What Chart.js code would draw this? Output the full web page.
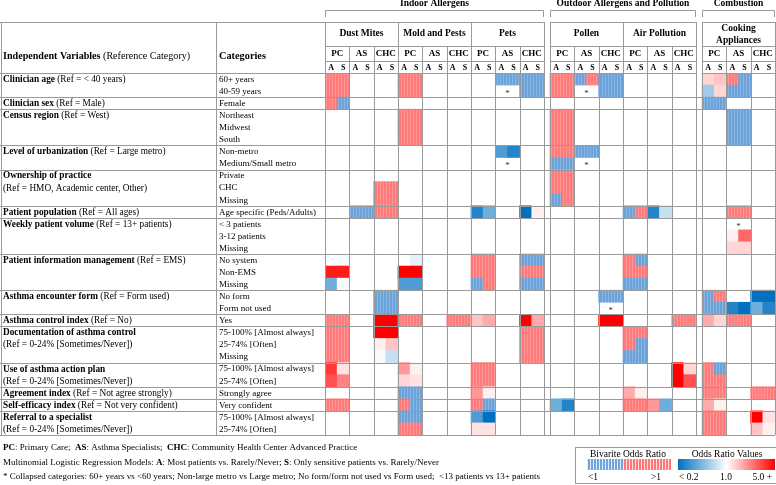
<!DOCTYPE html>
<html lang="en">
<head>
<meta charset="UTF-8">
<title>Odds Ratio Heatmap</title>
<script src="https://cdn.jsdelivr.net/npm/chart.js"></script>
<style>
  body { margin: 0; background: #fff; }
  canvas { display: block; }
</style>
</head>
<body>
<canvas id="orChart" width="776" height="485"></canvas>
<script>
// ---- data ----
const exposureGroups = ['Indoor Allergens', 'Outdoor Allergens and Pollution', 'Combustion'];
const groupSpan = [[0, 2], [3, 4], [5, 5]];           // which exposures sit under each group
const exposures = ['Dust Mites', 'Mold and Pests', 'Pets', 'Pollen', 'Air Pollution', 'Cooking Appliances'];
const specialties = ['PC', 'AS', 'CHC'];
const models = ['A', 'S'];

// name, reference category, number of category rows, reference on its own line
const variables = [
  ['Clinician age', '(Ref = < 40 years)', 2, false],
  ['Clinician sex', '(Ref = Male)', 1, false],
  ['Census region', '(Ref = West)', 3, false],
  ['Level of urbanization', '(Ref = Large metro)', 2, false],
  ['Ownership of practice', '(Ref = HMO, Academic center, Other)', 3, true],
  ['Patient population', '(Ref = All ages)', 1, false],
  ['Weekly patient volume', '(Ref = 13+ patients)', 3, false],
  ['Patient information management', '(Ref = EMS)', 3, false],
  ['Asthma encounter form', '(Ref = Form used)', 2, false],
  ['Asthma control index', '(Ref = No)', 1, false],
  ['Documentation of asthma control', '(Ref = 0-24% [Sometimes/Never])', 3, true],
  ['Use of asthma action plan', '(Ref = 0-24% [Sometimes/Never])', 2, true],
  ['Agreement index', '(Ref = Not agree strongly)', 1, false],
  ['Self-efficacy index', '(Ref = Not very confident)', 1, false],
  ['Referral to a specialist', '(Ref = 0-24% [Sometimes/Never])', 2, true]
];

const categories = [
  '60+ years', '40-59 years', 'Female', 'Northeast', 'Midwest', 'South',
  'Non-metro', 'Medium/Small metro', 'Private', 'CHC', 'Missing',
  'Age specific (Peds/Adults)', '< 3 patients', '3-12 patients', 'Missing',
  'No system', 'Non-EMS', 'Missing', 'No form', 'Form not used', 'Yes',
  '75-100% [Almost always]', '25-74% [Often]', 'Missing',
  '75-100% [Almost always]', '25-74% [Often]', 'Strongly agree', 'Very confident',
  '75-100% [Almost always]', '25-74% [Often]'
];

// one string per category row; six blocks (exposures) of PC A, PC S, AS A, AS S, CHC A, CHC S
// R / B : bivariate odds ratio > 1 / < 1 (hatched)
// a..n  : odds ratio above 1, 1..8 : odds ratio below 1 (see orByCode)
// *     : collapsed category, . : nothing
const cellRows = [
  'RR.... RR.... ..BBBB RRBRBB ...... cdRB..',
  'RR.... RR.... ..*.BB RR*.BB ...... 5cBB..',
  'RB.... ...... ...... ...... ...... BB....',
  '...... RR.... ...... RR.... ...... ..BB..',
  '...... RR.... ...... RR.... ...... ..BB..',
  '...... RR.... ...... RR.... ...... ..BB..',
  '...... ...... ..32.. RRBB.. ...... ......',
  '...... ...... ..*... BB*... ...... ......',
  '...... ...... ...... RR.... ...... ......',
  '....RR ...... ...... RR.... ...... ......',
  '....RR ...... ...... BR.... ...... ......',
  '..BBRR ...... 24..1a ...... BR26.. ..RR..',
  '...... ...... ...... ...... ...... ..*...',
  '...... ...... ...... ...... ...... ..ah..',
  '...... ...... ...... ...... ...... ..cc..',
  '.8.... .7.... RR..BB ...... RB.... ......',
  'kk.... nn.... RR..RR ...... RR.... ......',
  '48.... 33.... BR..BB ...... BB.... ......',
  '....BB ...... ...... ....BB ...... BR..11',
  '....BB ...... ...... ....*. ...... BB2142',
  'RR..nn RR..RR de..ne ....nn ....RR ecRR..',
  'RR..nn ...... ....RR ...... RR.... ......',
  'RR..ad ...... ....RR ...... RB.... ......',
  'RR..86 ...... ....RR ...... BB.... ......',
  'jb.... fa.... RR.... ...... ....nc RB....',
  'ig.... cb.... RR.... ...... ....ni RR....',
  '...... BB.... fa.... ...... ea.... RR..RR',
  'RR.... RB.... RB.... 42.... RRf4.. ea....',
  '...... BB.... 31.... ...... ...... RR..nb',
  '...... RR.... bb.... ...... ...... RR..da'
];

const orByCode = {
  a: 1.1, b: 1.2, c: 1.3, d: 1.45, e: 1.7, f: 1.9, g: 2.2, h: 2.6, i: 3.0, j: 3.5, k: 4.2, n: 5.0,
  '1': 0.2, '2': 0.25, '3': 0.33, '4': 0.4, '5': 0.55, '6': 0.7, '7': 0.85, '8': 0.95
};

const footerLines = [
  [['PC', 1], [': Primary Care;  ', 0], ['AS', 1], [': Asthma Specialists;  ', 0], ['CHC', 1], [': Community Health Center Advanced Practice', 0]],
  [['Multinomial Logistic Regression Models: ', 0], ['A', 1], [': Most patients vs. Rarely/Never; ', 0], ['S', 1], [': Only sensitive patients vs. Rarely/Never', 0]],
  [['* Collapsed categories: 60+ years vs <60 years; Non-large metro vs Large metro; No form/form not used vs Form used;  <13 patients vs 13+ patients', 0]]
];

// ---- helpers ----
const FONT = '"Liberation Serif", "Times New Roman", serif';
const LINE = '#9a9a9a';
const canvas = document.getElementById('orChart');
const ctx = canvas.getContext('2d');

// x position of column c: 36 columns plus half-column gaps after Pets and Air Pollution
function colPos(c) {
  return c + (c >= 18 ? 0.5 : 0) + (c >= 30 ? 0.5 : 0);
}

function orColor(or) {
  const t = Math.max(-1, Math.min(1, Math.log(or) / Math.log(5)));
  const end = t < 0 ? [0, 112, 192] : [255, 0, 0];
  const a = Math.abs(t);
  const m = end.map(v => Math.round(255 + (v - 255) * a));
  return 'rgb(' + m.join(',') + ')';
}

function hatch(base, line, w) {
  const c = document.createElement('canvas');
  c.width = w; c.height = 1;
  const g = c.getContext('2d');
  g.fillStyle = base; g.fillRect(0, 0, w, 1);
  g.fillStyle = line; g.fillRect(w - 1, 0, 1, 1);
  return ctx.createPattern(c, 'repeat');
}

const hatchRed = hatch('rgb(255,122,122)', 'rgb(255,150,150)', 3);
const hatchBlue = hatch('rgb(108,162,216)', 'rgb(138,182,228)', 3);
const legendRed = hatch('rgb(255,120,120)', 'rgb(255,225,225)', 3);
const legendBlue = hatch('rgb(110,165,220)', 'rgb(225,238,250)', 3);

const rowLabels = categories.map((c, i) => i + ' ' + c);

const cells = [];
const stars = [];
cellRows.forEach((s, r) => {
  [...s.replace(/ /g, '')].forEach((ch, c) => {
    if (ch === '.') return;
    if (ch === '*') { stars.push([r, c]); return; }
    cells.push({ r, c, ch });
  });
});

function cellFill(ch) {
  if (ch === 'R') return hatchRed;
  if (ch === 'B') return hatchBlue;
  return orColor(orByCode[ch]);
}

function rich(g, parts, x, y, size) {
  parts.forEach(([txt, bold]) => {
    g.font = (bold ? 'bold ' : '') + size + 'px ' + FONT;
    g.fillText(txt, x, y);
    x += g.measureText(txt).width;
  });
}

function hline(g, x0, x1, y) {
  g.beginPath(); g.moveTo(x0, Math.round(y) + 0.5); g.lineTo(x1, Math.round(y) + 0.5); g.stroke();
}
function vline(g, x, y0, y1) {
  g.beginPath(); g.moveTo(Math.round(x) + 0.5, y0); g.lineTo(Math.round(x) + 0.5, y1); g.stroke();
}

const tableDecor = {
  id: 'tableDecor',
  beforeDraw(chart) {
    const g = chart.ctx;
    g.save(); g.fillStyle = '#fff'; g.fillRect(0, 0, chart.width, chart.height); g.restore();
  },
  afterDatasetsDraw(chart) {
    const g = chart.ctx;
    const xs = chart.scales.x, ys = chart.scales.y;
    const top = ys.top, bottom = ys.bottom;
    const rowH = (bottom - top) / categories.length;
    const rowMid = r => ys.getPixelForValue(r);
    const px = v => xs.getPixelForValue(v);
    const blockL = b => px(colPos(b * 6));
    const blockR = b => px(colPos(b * 6) + 6);
    const H0 = 22, H1 = 46, H2 = 61, H3 = top;
    const colCat = 216, leftEdge = 1;

    g.save();
    g.strokeStyle = LINE; g.lineWidth = 1;

    // header horizontal rules
    [H0, H3].forEach(y => hline(g, 0, xs.left, y));
    groupSpan.forEach(([a, b]) => {
      [H0, H1, H2, H3].forEach(y => hline(g, blockL(a), blockR(b), y));
    });
    // row group rules across the whole table
    let r0 = 0;
    variables.forEach(v => {
      r0 += v[2];
      hline(g, 0, xs.right, top + r0 * rowH);
    });
    // verticals
    vline(g, leftEdge, H0, bottom);
    vline(g, colCat, H0, bottom);
    exposures.forEach((e, b) => {
      vline(g, blockL(b), H0, bottom);
      vline(g, blockR(b), H0, bottom);
      vline(g, px(colPos(b * 6) + 2), H1, bottom);
      vline(g, px(colPos(b * 6) + 4), H1, bottom);
    });

    // group brackets
    g.fillStyle = '#000';
    g.textAlign = 'center'; g.textBaseline = 'middle';
    exposureGroups.forEach((name, i) => {
      const [a, b] = groupSpan[i];
      const x0 = blockL(a), x1 = blockR(b);
      g.beginPath();
      g.moveTo(Math.round(x0) + 0.5, 17); g.lineTo(Math.round(x0) + 0.5, 10.5);
      g.lineTo(Math.round(x1) - 0.5, 10.5); g.lineTo(Math.round(x1) - 0.5, 17);
      g.stroke();
      g.font = 'bold 9.5px ' + FONT;
      g.fillText(name, (x0 + x1) / 2, 4);
    });

    // exposure / specialty / model headers
    exposures.forEach((e, b) => {
      const cx = (blockL(b) + blockR(b)) / 2;
      g.font = 'bold 9.5px ' + FONT;
      if (e === 'Cooking Appliances') {
        g.fillText('Cooking', cx, 29);
        g.fillText('Appliances', cx, 41);
      } else {
        g.fillText(e, cx, 34);
      }
      specialties.forEach((s, k) => {
        const sx = px(colPos(b * 6) + k * 2 + 1);
        g.font = 'bold 9px ' + FONT;
        g.fillText(s, sx, 54);
        models.forEach((m, j) => {
          g.font = 'bold 8px ' + FONT;
          g.fillText(m, px(colPos(b * 6) + k * 2 + j + 0.5), 67.5);
        });
      });
    });

    // left header
    g.textAlign = 'left';
    rich(g, [['Independent Variables ', 1], ['(Reference Category)', 0]], 3, 56, 10.1);
    rich(g, [['Categories', 1]], colCat + 3, 56, 10.3);

    // variable and category labels
    let r = 0;
    variables.forEach(([name, ref, n, wrap]) => {
      if (wrap) {
        rich(g, [[name, 1]], 3, rowMid(r) + 0.5, 9.3);
        rich(g, [[ref, 0]], 3, rowMid(r + 1) + 0.5, 9.3);
      } else {
        rich(g, [[name + ' ', 1], [ref, 0]], 3, rowMid(r) + 0.5, 9.3);
      }
      r += n;
    });
    g.font = '9px ' + FONT;
    categories.forEach((c, i) => g.fillText(c, colCat + 3, rowMid(i) + 0.5));

    // collapsed-category stars, centered on the specialty pair
    g.textAlign = 'center';
    g.fillStyle = '#333';
    g.font = '9px ' + FONT;
    stars.forEach(([sr, c]) => g.fillText('*', px(colPos(c) + 1), rowMid(sr) + 2.5));

    // footer
    g.fillStyle = '#000';
    g.textAlign = 'left';
    footerLines.forEach((parts, i) => rich(g, parts, 3, 448 + i * 14.5, 9));

    // legend
    g.strokeRect(575.5, 447.5, 201, 36);
    g.textAlign = 'center';
    g.font = '9.5px ' + FONT;
    g.fillText('Bivarite Odds Ratio', 628, 454.5);
    g.fillText('Odds Ratio Values', 727, 454.5);
    g.fillStyle = legendBlue; g.fillRect(587, 459, 36, 11);
    g.fillStyle = legendRed; g.fillRect(623, 459, 48, 11);
    const grad = g.createLinearGradient(678, 0, 775, 0);
    [0.2, 0.3, 0.45, 0.7, 1, 1.4, 2.2, 3.3, 5].forEach(v => {
      grad.addColorStop((Math.log(v) / Math.log(5) + 1) / 2, orColor(v));
    });
    g.fillStyle = grad; g.fillRect(678, 459, 97, 11);
    g.fillStyle = '#000';
    g.textAlign = 'left';
    g.fillText('<1', 588, 477.5);
    g.fillText('>1', 651, 477.5);
    g.fillText('< 0.2', 679, 477.5);
    g.textAlign = 'center';
    g.fillText('1.0', 726, 477.5);
    g.textAlign = 'right';
    g.fillText('5.0 +', 772, 477.5);
    g.restore();
  }
};

new Chart(ctx, {
  type: 'bar',
  data: {
    labels: rowLabels,
    datasets: [{
      data: cells.map(k => ({ x: [colPos(k.c), colPos(k.c) + 1], y: rowLabels[k.r] })),
      backgroundColor: cells.map(k => cellFill(k.ch)),
      borderWidth: 0,
      categoryPercentage: 1,
      barPercentage: 1
    }]
  },
  options: {
    indexAxis: 'y',
    responsive: false,
    animation: false,
    devicePixelRatio: 1,
    layout: { padding: { left: 325, top: 73, right: 1, bottom: 50 } },
    scales: {
      x: { type: 'linear', min: 0, max: 37, display: false },
      y: { type: 'category', display: false }
    },
    plugins: { legend: { display: false }, tooltip: { enabled: false } }
  },
  plugins: [tableDecor]
});
</script>
</body>
</html>
